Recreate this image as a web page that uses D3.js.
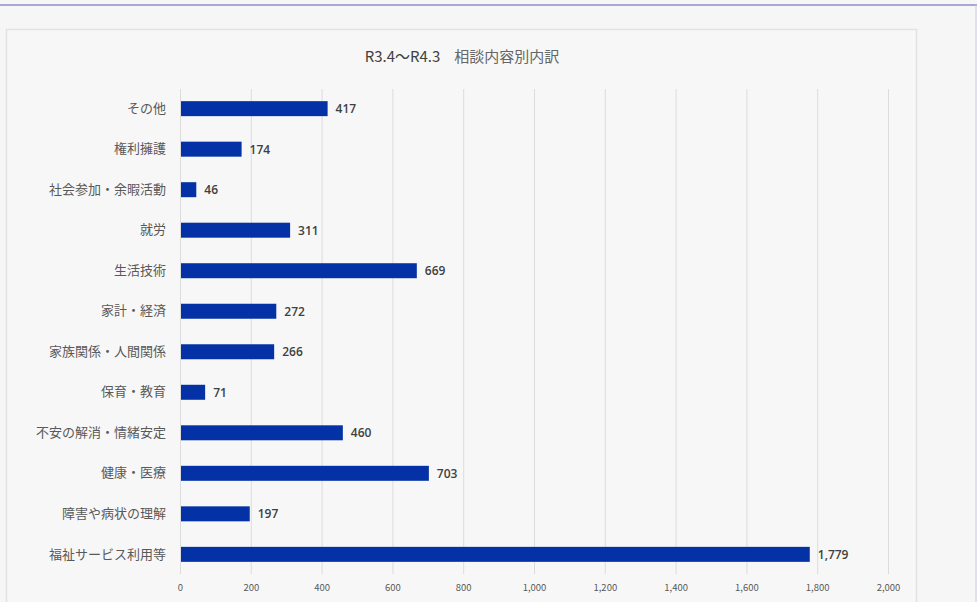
<!DOCTYPE html>
<html>
<head>
<meta charset="utf-8">
<script src="https://cdn.jsdelivr.net/npm/d3@7"></script>
<style>
  body { margin: 0; background: #f6f6f6; }
  svg { display: block; }
</style>
</head>
<body>
<svg id="chart" width="977" height="602"></svg>
<script>
// categories top to bottom, as shown
const categories = [
  "その他",
  "権利擁護",
  "社会参加・余暇活動",
  "就労",
  "生活技術",
  "家計・経済",
  "家族関係・人間関係",
  "保育・教育",
  "不安の解消・情緒安定",
  "健康・医療",
  "障害や病状の理解",
  "福祉サービス利用等",
];
const counts = [417, 174, 46, 311, 669, 272, 266, 71, 460, 703, 197, 1779];
const xTicks = [0, 200, 400, 600, 800, 1000, 1200, 1400, 1600, 1800, 2000];

const data = categories.map((c, i) => ({ name: c, value: counts[i] }));

const svg = d3.select("#chart");
const font = "'Noto Sans CJK JP', 'Noto Sans', sans-serif";

// page frame
svg.append("line")
  .attr("x1", 0).attr("x2", 977).attr("y1", 5).attr("y2", 5)
  .attr("stroke", "#a9a7d6").attr("stroke-width", 2);
svg.append("line")
  .attr("x1", 976).attr("x2", 976).attr("y1", 5).attr("y2", 602)
  .attr("stroke", "#c9c8e6").attr("stroke-width", 1);

// chart area box
svg.append("rect")
  .attr("x", 6.5).attr("y", 29.5).attr("width", 910).attr("height", 590)
  .attr("fill", "#f7f7f7").attr("stroke", "#e2e2e2").attr("stroke-width", 1.5);

const margin = { top: 89, left: 180 };
const width = 888 - margin.left;
const height = 574 - margin.top;

const x = d3.scaleLinear().domain([0, 2000]).range([0, width]);
const y = d3.scaleBand().domain(categories).range([0, height])
  .paddingInner(0.63).paddingOuter(0.3);

const g = svg.append("g").attr("transform", `translate(${margin.left},${margin.top})`);

// gridlines
g.append("g")
  .selectAll("line")
  .data(xTicks)
  .enter()
  .append("line")
  .attr("x1", (d) => x(d) + 0.5)
  .attr("x2", (d) => x(d) + 0.5)
  .attr("y1", 0)
  .attr("y2", height)
  .attr("stroke", "#dcdcdc")
  .attr("stroke-width", 1);

// x axis labels
const xAxis = g.append("g")
  .attr("transform", `translate(0,${height})`)
  .call(d3.axisBottom(x).tickValues(xTicks).tickSize(0).tickPadding(10)
    .tickFormat(d3.format(",")));
xAxis.select(".domain").remove();
xAxis.selectAll("text")
  .attr("fill", "#595959")
  .style("font-family", font)
  .style("font-size", "9.5px");

// y axis labels
const yAxis = g.append("g")
  .call(d3.axisLeft(y).tickSize(0).tickPadding(14));
yAxis.select(".domain").remove();
yAxis.selectAll("text")
  .attr("fill", "#595959")
  .style("font-family", font)
  .style("font-size", "13px");

// bars
g.append("g")
  .selectAll(".bar")
  .data(data)
  .enter()
  .append("rect")
  .attr("class", "bar")
  .attr("x", x(0) + 1)
  .attr("y", (d) => y(d.name))
  .attr("width", (d) => x(d.value) - 1)
  .attr("height", y.bandwidth())
  .attr("fill", "#0432a6");

// value labels
g.append("g")
  .selectAll(".label")
  .data(data)
  .enter()
  .append("text")
  .attr("class", "label")
  .attr("x", (d) => x(d.value) + 8)
  .attr("y", (d) => y(d.name) + y.bandwidth() / 2)
  .attr("dy", "0.38em")
  .attr("fill", "#404040")
  .style("font-family", "'Open Sans', 'Noto Sans', sans-serif")
  .style("font-size", "12px")
  .style("font-weight", "600")
  .text((d) => d3.format(",")(d.value));

// title
const title = svg.append("text")
  .attr("x", 462)
  .attr("y", 62)
  .attr("text-anchor", "middle")
  .style("font-family", font)
  .style("font-size", "15px");
title.append("tspan").attr("fill", "#404040").text("R3.4～R4.3");
title.append("tspan").attr("fill", "#666").attr("dx", 14).text("相談内容別内訳");
</script>
</body>
</html>
